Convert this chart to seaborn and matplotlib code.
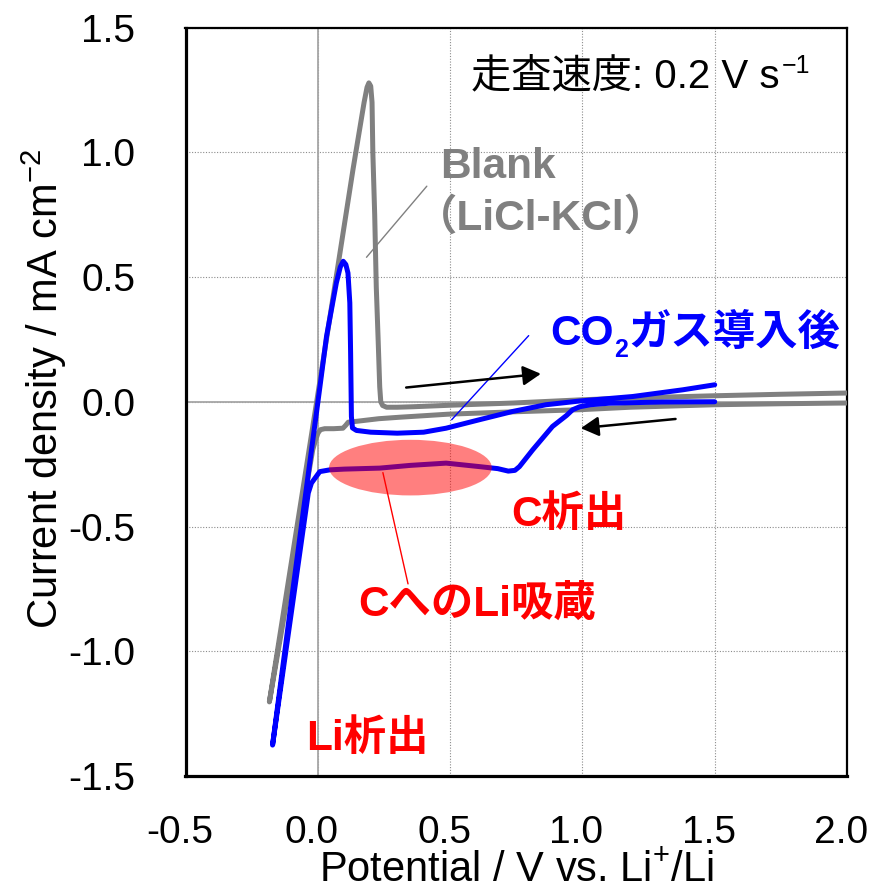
import matplotlib
matplotlib.use("Agg")
import matplotlib.pyplot as plt
from matplotlib.patches import Ellipse
from matplotlib.transforms import ScaledTranslation
import pandas as pd
import seaborn as sns

# Blank (LiCl-KCl): cathodic sweep from +2.0 V, then anodic sweep back to +2.0 V
blank_potential = [2.00, 1.75, 1.50, 1.18, 0.99, 0.75, 0.49, 0.31, 0.23, 0.15, 0.115, 0.105,
                   0.095, 0.06, 0.026, 0.010, 0.001, -0.008, -0.019, -0.183,
                   -0.005, 0.070, 0.133, 0.175, 0.186, 0.193, 0.200, 0.205, 0.208, 0.215,
                   0.221, 0.228, 0.234, 0.238, 0.245, 0.260, 0.300, 0.360, 0.500, 0.740,
                   1.000, 1.180, 1.500, 1.750, 2.000]
blank_current = [-0.005, -0.008, -0.012, -0.022, -0.032, -0.040, -0.050, -0.062, -0.068, -0.078,
                 -0.082, -0.095, -0.106, -0.108, -0.108, -0.112, -0.125, -0.152, -0.192, -1.203,
                 -0.005, 0.503, 0.931, 1.200, 1.260, 1.278, 1.265, 1.200, 1.000, 0.750,
                 0.460, 0.250, 0.060, 0.000, -0.015, -0.022, -0.022, -0.020, -0.014, -0.005,
                 0.008, 0.015, 0.024, 0.030, 0.035]

# After CO2 introduction: cathodic sweep from +1.5 V, then anodic sweep back to +1.5 V
co2_potential = [1.50, 1.30, 1.10, 1.03, 0.99, 0.963, 0.94, 0.887, 0.812, 0.762, 0.745, 0.72,
                 0.68, 0.611, 0.485, 0.35, 0.234, 0.10, 0.045, 0.0075, -0.024, -0.036, -0.171,
                 -0.10, 0.008, 0.033, 0.070, 0.085, 0.096, 0.106, 0.114, 0.121, 0.124, 0.127,
                 0.131, 0.146, 0.20, 0.30, 0.40, 0.485, 0.611, 0.736, 0.862, 0.99, 1.19, 1.38,
                 1.50]
co2_current = [0.000, -0.001, -0.006, -0.012, -0.020, -0.032, -0.055, -0.099, -0.193, -0.260,
               -0.275, -0.278, -0.268, -0.260, -0.246, -0.255, -0.266, -0.270, -0.273, -0.280,
               -0.326, -0.366, -1.376,
               -0.800, 0.060, 0.262, 0.476, 0.540, 0.563, 0.550, 0.516, 0.396, 0.195, -0.059,
               -0.105, -0.115, -0.122, -0.126, -0.122, -0.106, -0.072, -0.039, -0.012, 0.003,
               0.021, 0.048, 0.068]

x_ticks = [-0.5, 0.0, 0.5, 1.0, 1.5, 2.0]
x_tick_labels = ["-0.5", "0.0", "0.5", "1.0", "1.5", "2.0"]
y_ticks = [-1.5, -1.0, -0.5, 0.0, 0.5, 1.0, 1.5]
y_tick_labels = ["-1.5", "-1.0", "-0.5", "0.0", "0.5", "1.0", "1.5"]

GRAY = "#808080"
BLUE = "#0000FF"
RED = "#FF0000"

sns.set_style("white")
plt.rcParams["font.family"] = ["Liberation Sans", "Noto Sans CJK JP", "DejaVu Sans"]
plt.rcParams["axes.unicode_minus"] = False
plt.rcParams["text.color"] = "black"
plt.rcParams["axes.labelcolor"] = "black"
plt.rcParams["mathtext.fontset"] = "custom"
plt.rcParams["mathtext.rm"] = "Liberation Sans"
plt.rcParams["mathtext.it"] = "Liberation Sans:italic"
plt.rcParams["mathtext.bf"] = "Liberation Sans:bold"

FS_TICK = 28
FS_AXIS = 30
FS_NOTE = 29
FS_TAG = 30.5

fig = plt.figure(figsize=(8.74, 8.89), dpi=100)
ax = fig.add_axes([185.5 / 874, 1 - 776 / 889, 661.5 / 874, 748.5 / 889])

blank_df = pd.DataFrame({"potential": blank_potential, "current": blank_current})
co2_df = pd.DataFrame({"potential": co2_potential, "current": co2_current})

sns.lineplot(data=blank_df, x="potential", y="current", sort=False, estimator=None,
             color=GRAY, linewidth=3.6, ax=ax, zorder=3)
sns.lineplot(data=co2_df, x="potential", y="current", sort=False, estimator=None,
             color=BLUE, linewidth=3.6, ax=ax, zorder=4)
for ln in ax.lines:
    ln.set_solid_capstyle("round")
    ln.set_solid_joinstyle("round")

ax.set_xlim(-0.5, 2.0)
ax.set_ylim(-1.5, 1.5)
ax.set_xticks(x_ticks)
ax.set_xticklabels(x_tick_labels)
ax.set_yticks(y_ticks)
ax.set_yticklabels(y_tick_labels)
ax.tick_params(axis="both", length=0, labelsize=FS_TICK, colors="black")
ax.tick_params(axis="x", pad=28)
ax.tick_params(axis="y", pad=36)
shift = ScaledTranslation(-6 / 100, 0, fig.dpi_scale_trans)
for lbl in ax.get_xticklabels():
    lbl.set_transform(lbl.get_transform() + shift)

# dotted grid plus solid zero lines
ax.grid(True, color="#8c8c8c", linewidth=0.8, linestyle=(0, (1, 1.5)), zorder=0)
ax.axhline(0, color="#a6a6a6", linewidth=1.3, zorder=1)
ax.axvline(0, color="#a6a6a6", linewidth=1.3, zorder=1)
ax.set_axisbelow(True)

for side in ["left", "bottom"]:
    ax.spines[side].set_linewidth(2.3)
    ax.spines[side].set_color("black")
for side in ["top", "right"]:
    ax.spines[side].set_linewidth(1.6)
    ax.spines[side].set_color("black")

ax.set_xlabel("Potential / V vs. Li$^{+}$/Li", fontsize=FS_AXIS, color="black")
ax.xaxis.set_label_coords(0.5, (776 - 881) / 748.5)
ax.xaxis.label.set_va("baseline")
ax.set_ylabel("Current density / mA cm$^{-2}$", fontsize=FS_AXIS, color="black")
ax.yaxis.set_label_coords((44 - 185.5) / 661.5, (776 - 389) / 748.5)
ax.yaxis.label.set_va("center")
ax.yaxis.label.set_ha("center")

# sweep direction arrows
arrow_kw = dict(arrowstyle="-|>,head_length=0.4,head_width=0.22", color="black",
                lw=1.8, mutation_scale=27, shrinkA=0, shrinkB=0)
ax.annotate("", xy=(0.843, 0.112), xytext=(0.334, 0.057), arrowprops=arrow_kw, zorder=6)
ax.annotate("", xy=(0.994, -0.106), xytext=(1.352, -0.069), arrowprops=arrow_kw, zorder=6)

# Li intercalation region
ax.add_patch(Ellipse((0.350, -0.264), 0.615, 0.223, facecolor=RED, alpha=0.5,
                     edgecolor="none", zorder=5))

# leader lines
ax.plot([0.184, 0.412], [0.579, 0.864], color=GRAY, lw=1.0, zorder=5)
ax.plot([0.506, 0.797], [-0.072, 0.265], color=BLUE, lw=1.0, zorder=5)
ax.plot([0.246, 0.341], [-0.284, -0.730], color=RED, lw=1.0, zorder=6)

# scan rate
t_rate = ax.text(0.579, 1.261, "走査速度: 0.2 V s", fontsize=FS_NOTE, color="black",
                 ha="left", va="baseline", zorder=7)
ax.annotate("−1", xy=(1, 1.261), xycoords=(t_rate, "data"), xytext=(1.5, 10),
            textcoords="offset points", fontsize=18, ha="left", va="baseline", zorder=7)

# curve labels
ax.text(0.462, 0.897, "Blank", fontsize=FS_TAG, color=GRAY, weight="bold",
        ha="left", va="baseline", zorder=7)
ax.text(0.842, 0.688, "（LiCl-KCl）", fontsize=FS_TAG, color=GRAY, weight="bold",
        ha="center", va="baseline", zorder=7)

t_co = ax.text(0.877, 0.228, "CO", fontsize=FS_TAG, color=BLUE, weight="bold",
               ha="left", va="baseline", zorder=7)
t_sub = ax.annotate("2", xy=(1, 0.228), xycoords=(t_co, "data"), xytext=(0.5, -9),
                    textcoords="offset points", fontsize=18, color=BLUE, weight="bold",
                    ha="left", va="baseline", zorder=7)
ax.annotate("ガス導入後", xy=(1, 0.228), xycoords=(t_sub, "data"), xytext=(0.5, 0),
            textcoords="offset points", fontsize=FS_TAG, color=BLUE, weight="bold",
            ha="left", va="baseline", zorder=7)

ax.text(0.732, -0.498, "C析出", fontsize=FS_TAG, color=RED, weight="bold",
        ha="left", va="baseline", zorder=7)
ax.text(0.151, -0.859, "CへのLi吸蔵", fontsize=FS_TAG, color=RED, weight="bold",
        ha="left", va="baseline", zorder=7)
ax.text(-0.043, -1.395, "Li析出", fontsize=FS_TAG, color=RED, weight="bold",
        ha="left", va="baseline", zorder=7)

fig.savefig("out.png", dpi=100)
